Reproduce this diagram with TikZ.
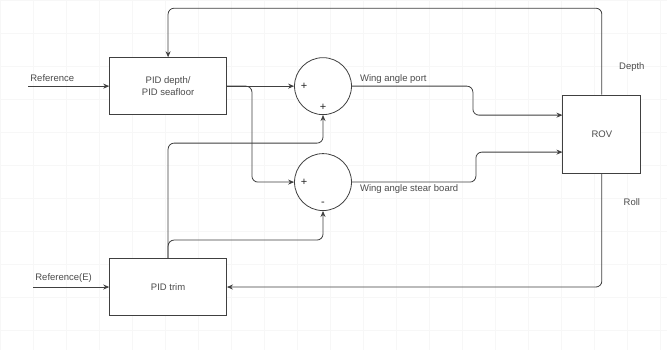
\documentclass[tikz,border=0pt]{standalone}
\usepackage{fontspec}
\setmainfont{Liberation Sans}
\usepackage{xcolor}
\usetikzlibrary{arrows.meta, positioning}

\begin{document}
\begin{tikzpicture}[
  x=1pt, y=-1pt,
  block/.style={rectangle, draw=black!75, line width=0.8pt, fill=white, minimum width=117pt, minimum height=57pt, align=center, text=black!70, font=\fontsize{9.5}{11.5}\selectfont},
  sumnode/.style={circle, draw=black!75, line width=0.8pt, fill=white, minimum size=57pt, inner sep=0pt},
  lbl/.style={text=black!70, font=\fontsize{9.5}{11.5}\selectfont, inner sep=2pt},
  sign/.style={text=black!85, font=\fontsize{11}{12}\selectfont, inner sep=0pt},
  wire/.style={draw=black!75, line width=0.8pt, rounded corners=6pt},
  arrow/.style={wire, -{Stealth[length=6pt, width=5pt]}}
]
% background and grid
\fill[white] (0,0) rectangle (667,350);
\draw[black!3, line width=0.4pt, step=33pt] (0,0) grid (667,350);
\useasboundingbox (0,0) rectangle (667,350);

% blocks
\node (depth) [block] at (168,86) {PID depth/\\PID seafloor};
\node (trim) [block] at (168,287) {PID trim};
\node (rov) [block, minimum width=78pt, minimum height=78pt] at (602,134) {ROV};
\node (sump) [sumnode] at (323,86) {};
\node (sums) [sumnode] at (323,182) {};

% signs
\node (sp1) [sign] at ([xshift=10pt]sump.west) {+};
\node (sp2) [sign] at ([yshift=8pt]sump.south) {+};
\node (ss1) [sign] at ([xshift=10pt]sums.west) {+};
\node (ss2) [sign] at ([yshift=7pt]sums.south) {-};

% helper points
\coordinate (refin) at (28,86);
\coordinate (refein) at (33,287);
\coordinate (topline) at (0,8);
\coordinate (kp) at (473,0);
\coordinate (ks) at (476,0);

% inputs
\draw [arrow] (refin) -- (depth.west);
\node (reflbl) [lbl, anchor=south west] at ([yshift=2pt]refin) {Reference};
\draw [arrow] (refein) -- (trim.west);
\node (refelbl) [lbl, anchor=south west] at ([yshift=2pt]refein) {Reference(E)};

% PID depth to the sums
\draw [arrow] (depth.east) -- (sump.west);
\draw [arrow] (depth.east) -- ++(25,0) |- (sums.west);

% PID trim to the sums
\draw [arrow] (trim.north) -- (trim.north |- 0,143) -| (sump.south);
\draw [arrow] (trim.north) -- (trim.north |- 0,240) -| (sums.south);

% sums to ROV
\draw [arrow] (sump.east) -- (sump.east -| kp) |- ([yshift=19pt]rov.west);
\draw [arrow] (sums.east) -- (sums.east -| ks) |- ([yshift=-18pt]rov.west);
\node (portlbl) [lbl, anchor=south west] at ([xshift=6pt]sump.east) {Wing angle port};
\node (stearlbl) [lbl, anchor=north west] at ([xshift=6pt]sums.east) {Wing angle stear board};

% feedback
\draw [arrow] (rov.north) -- (rov.north |- topline) -| (depth.north);
\draw [arrow] (rov.south) |- (trim.east);
\node (depthlbl) [lbl] at (632,67) {Depth};
\node (rolllbl) [lbl] at (632,202) {Roll};
\end{tikzpicture}
\end{document}
